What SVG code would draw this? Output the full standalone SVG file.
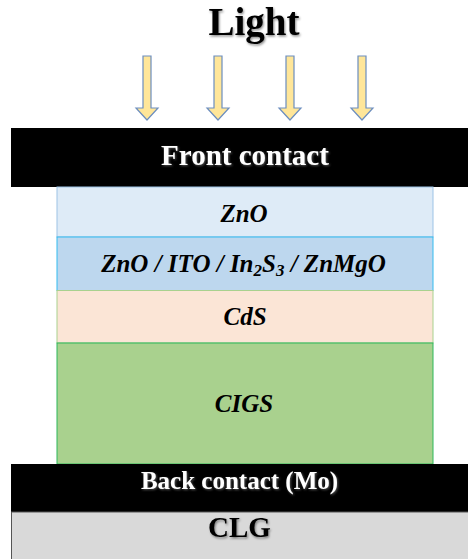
<svg xmlns="http://www.w3.org/2000/svg" width="468" height="559" viewBox="0 0 468 559">
<defs>
<filter id="sh" x="-10%" y="-20%" width="130%" height="150%">
<feDropShadow dx="1" dy="1.5" stdDeviation="1.2" flood-color="#000" flood-opacity="0.45"/>
</filter>
<filter id="shw" x="-10%" y="-20%" width="130%" height="150%">
<feDropShadow dx="1" dy="1" stdDeviation="1" flood-color="#888" flood-opacity="0.6"/>
</filter>
</defs>
<style>
.t{font-family:"Liberation Serif","Times New Roman",serif;font-weight:bold;text-anchor:middle}
.i{font-family:"Liberation Serif","Times New Roman",serif;font-style:italic;font-weight:bold;fill:#000;font-size:25px}
.w{fill:#fff}
.arrow{fill:#FFE699;stroke:#6C8EBF;stroke-width:1.2}
</style>
<g id="light">
<text class="t" x="254" y="35" font-size="39" filter="url(#sh)">Light</text>
</g>
<g id="arrows">
<path class="arrow" d="M143,56 H151 V108 H158 L147,120 L136,108 H143 Z"/>
<path class="arrow" d="M214,56 H222 V108 H229 L218,120 L207,108 H214 Z"/>
<path class="arrow" d="M286,56 H294 V108 H301 L290,120 L279,108 H286 Z"/>
<path class="arrow" d="M358,56 H366 V108 H373 L362,120 L351,108 H358 Z"/>
</g>
<g id="front-contact">
<rect x="11" y="128" width="457" height="59" fill="#000"/>
<text class="t w" x="245" y="165" font-size="29" filter="url(#shw)">Front contact</text>
</g>
<g id="zno">
<rect x="57" y="187" width="376" height="50" fill="#DEEBF7" stroke="#9DC3E6" stroke-width="1"/>
<text class="t i" x="244" y="222">ZnO</text>
</g>
<g id="buffer">
<rect x="57" y="237" width="376" height="53.5" fill="#BDD7EE" stroke="#33BBF0" stroke-width="1"/>
<text class="t i" x="243.5" y="272">ZnO / ITO / In<tspan font-size="17" dy="4">2</tspan><tspan dy="-4">S</tspan><tspan font-size="17" dy="4">3</tspan><tspan dy="-4"> / ZnMgO</tspan></text>
</g>
<g id="cds">
<rect x="57" y="290.5" width="376" height="52.5" fill="#FBE5D6" stroke="#A9D18E" stroke-width="1"/>
<text class="t i" x="245" y="325">CdS</text>
</g>
<g id="cigs">
<rect x="57" y="343" width="376" height="121" fill="#A9D18E" stroke="#2DB85A" stroke-width="1"/>
<text class="t i" x="244" y="412">CIGS</text>
</g>
<g id="back-contact">
<rect x="11" y="464" width="457" height="48" fill="#000"/>
<text class="t w" x="239.5" y="489" font-size="25" filter="url(#shw)">Back contact (Mo)</text>
</g>
<g id="clg">
<rect x="11.5" y="512" width="457" height="48" fill="#D9D9D9" stroke="#555" stroke-width="1"/>
<text class="t" x="239.5" y="537" font-size="29" filter="url(#sh)">CLG</text>
</g>
</svg>
